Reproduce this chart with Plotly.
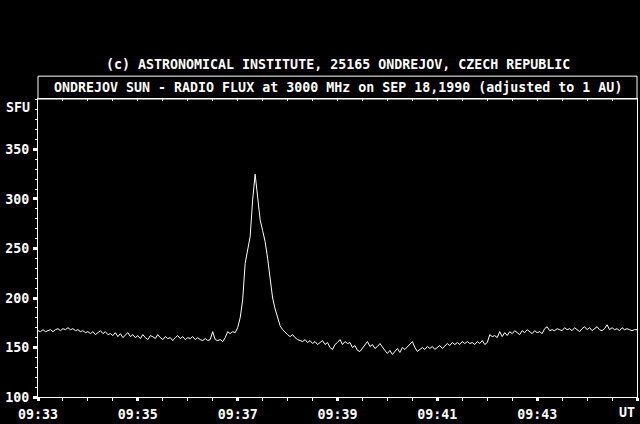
import plotly.graph_objects as go

# sample step of the flux record, seconds from 09:33:00 UT
step_s = 3
sfu = [
    167,166,168,166,167,168,166,168,169,167,
    169,168,170,168,169,167,168,166,167,165,
    166,164,166,163,165,167,164,166,163,164,
    162,165,161,164,160,163,165,161,163,160,
    162,159,163,160,158,162,161,159,163,160,
    158,161,159,160,157,160,162,159,161,158,
    160,159,161,158,160,
    158,157,159,157,158,166,158,157,158,156,
    160,166,164,166,165,170,180,198,235,249,
    262,299,325,302,279,268,257,240,218,200,
    189,179,172,168,165,163,161,163,160,158,
    157,
    156,158,155,157,154,156,153,155,157,153,
    155,150,148,153,155,158,153,156,154,155,
    150,152,147,146,149,152,156,151,153,149,
    151,154,150,147,144,147,143,146,149,145,
    150,148,151,154,156,150,146,148,150,148,
    151,149,151,148,150,152,149,152,154,152,
    155,153,155,153,156,154,156,154,155,153,
    156,154,157,153,155,163,161,162,160,166,
    161,165,162,166,164,167,165,163,167,165,
    168,166,164,167,165,166,164,169,171,167,
    168,167,169,168,167,170,168,169,167,170,
    168,166,169,171,168,170,167,169,171,168,
    167,169,173,168,170,168,169,167,170,168,
    169,168,167,168,168,
]
t_sec = [i * step_s for i in range(len(sfu))]

x_tick_vals = [0, 120, 240, 360, 480, 600, 720]
x_tick_text = ["09:33", "09:35", "09:37", "09:39", "09:41", "09:43", ""]
y_tick_vals = [100, 150, 200, 250, 300, 350]

title1 = "(c) ASTRONOMICAL INSTITUTE, 25165 ONDREJOV, CZECH REPUBLIC"
title2 = "ONDREJOV SUN - RADIO FLUX at 3000 MHz on SEP 18,1990 (adjusted to 1 AU)"

FONT = dict(family="DejaVu Sans Mono", size=13.3, color="white", weight="bold")

fig = go.Figure()
fig.add_trace(go.Scatter(x=t_sec, y=sfu, mode="lines",
                         line=dict(color="white", width=1), hoverinfo="skip"))
fig.add_trace(go.Scatter(x=[0, 720], y=[100, 100], xaxis="x2", mode="markers",
                         marker=dict(opacity=0), hoverinfo="skip"))

fig.update_layout(
    width=640, height=424,
    margin=dict(l=38, r=2, t=99, b=25),
    paper_bgcolor="black", plot_bgcolor="black",
    showlegend=False,
    font=FONT,
    xaxis=dict(range=[0, 720], showgrid=False, zeroline=False,
               showline=True, linecolor="white", linewidth=1,
               tickmode="array", tickvals=x_tick_vals, ticktext=x_tick_text,
               ticks="outside", ticklen=3, tickwidth=3, tickcolor="white",
               minor=dict(dtick=30, ticks="outside", ticklen=3, tickwidth=1,
                          tickcolor="white", showgrid=False),
               tickfont=FONT, ticklabelstandoff=2),
    xaxis2=dict(range=[0, 720], overlaying="x", side="top", anchor="y",
                showgrid=False, zeroline=False, showline=True,
                linecolor="white", linewidth=1, showticklabels=False,
                tickmode="linear", tick0=0, dtick=30,
                ticks="inside", ticklen=2, tickwidth=1, tickcolor="white"),
    yaxis=dict(range=[100, 401], showgrid=False, zeroline=False,
               showline=True, linecolor="white", linewidth=1, mirror=True,
               tickmode="array", tickvals=y_tick_vals,
               ticks="outside", ticklen=4, tickwidth=3, tickcolor="white",
               minor=dict(dtick=10, ticks="outside", ticklen=2, tickwidth=1,
                          tickcolor="white", showgrid=False),
               tickfont=FONT, ticklabelstandoff=1),
)

fig.add_shape(type="rect", xref="paper", yref="paper",
              x0=0, x1=1, y0=1, y1=1 + 23 / 300,
              line=dict(color="white", width=1))

fig.add_annotation(text=title1, xref="paper", yref="paper", x=0.5, y=1 + 35 / 300,
                   xanchor="center", yanchor="middle", showarrow=False, font=FONT)
fig.add_annotation(text=title2, xref="paper", yref="paper", x=0.5, y=1 + 12 / 300,
                   xanchor="center", yanchor="middle", showarrow=False, font=FONT)
fig.add_annotation(text="SFU", xref="paper", yref="paper", x=-6 / 600, y=1 - 9 / 300,
                   xanchor="right", yanchor="middle", showarrow=False, font=FONT)
fig.add_annotation(text="UT", xref="paper", yref="paper", x=1, y=-16 / 300,
                   xanchor="right", yanchor="middle", showarrow=False, font=FONT)

fig.write_html(
    "out.html",
    config={"displayModeBar": False},
    post_script="document.body.style.margin='0';document.body.style.background='black';",
)
